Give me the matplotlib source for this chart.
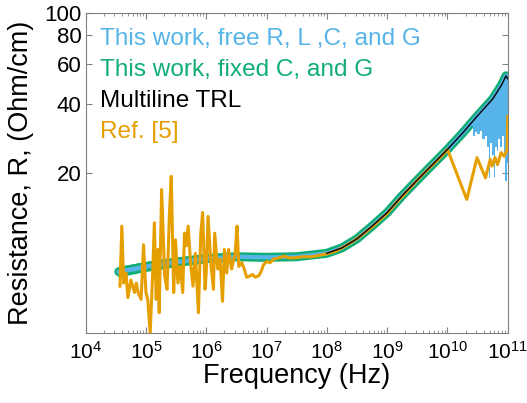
import numpy as np
import matplotlib
matplotlib.use("Agg")
import matplotlib.pyplot as plt
from matplotlib.ticker import FixedLocator, LogLocator, NullFormatter, NullLocator

plt.rcParams['font.family'] = ['Liberation Sans', 'DejaVu Sans']
plt.rcParams['mathtext.fontset'] = 'custom'
plt.rcParams['mathtext.rm'] = 'Liberation Sans'
plt.rcParams['mathtext.default'] = 'regular'

# ---- data (log10 of frequency in Hz, resistance in Ohm/cm) ----
band_logf = [4.55, 5.0, 5.5, 6.0, 6.5, 7.0, 7.5, 8.0, 8.25, 8.5, 8.75, 9.0,
             9.25, 9.5, 9.75, 10.0, 10.25, 10.5, 10.75, 10.9, 10.97, 11.0]
band_R = [7.4, 7.8, 8.15, 8.45, 8.6, 8.55, 8.6, 8.9, 9.4, 10.3, 11.7, 13.4,
          15.9, 18.6, 21.7, 25.3, 29.8, 35.5, 42.0, 48.5, 53.0, 51.5]
# spread of the "free R, L, C, G" curve (decades)
blue_spread = [0.016, 0.015, 0.013, 0.011, 0.010, 0.008, 0.006, 0.002, 0.0, 0.0, 0.0, 0.0,
               0.0, 0.0, 0.0, 0.0, 0.0, 0.0, 0.0, 0.0, 0.0, 0.0]

# high frequency scatter of the free fit
hf_logf = [10.40, 10.43, 10.47, 10.52, 10.56, 10.60, 10.64, 10.68, 10.70, 10.72, 10.75,
           10.78, 10.80, 10.83, 10.86, 10.89, 10.92, 10.95, 10.97, 10.99, 11.0]
hf_top = [33.1, 33.8, 34.8, 36.0, 37.0, 38.0, 39.1, 40.2, 40.7, 41.3, 42.2,
          43.5, 44.5, 46.0, 47.1, 48.2, 49.6, 51.5, 53.0, 52.0, 51.5]
hf_low = [32.0, 29.0, 30.0, 29.5, 30.5, 28.0, 29.0, 26.0, 19.0, 27.0, 24.0,
          19.2, 26.0, 25.0, 28.0, 26.0, 29.0, 24.0, 18.4, 23.0, 22.0]

# Ref. [5]
ref_logf = [4.57, 4.60, 4.63, 4.67, 4.70, 4.75, 4.81, 4.84, 4.87, 4.92, 4.96, 5.00,
            5.03, 5.07, 5.11, 5.14, 5.17, 5.20, 5.22, 5.26, 5.31, 5.35, 5.39, 5.42,
            5.46, 5.49, 5.53, 5.57, 5.61, 5.64, 5.67, 5.70, 5.74, 5.78, 5.82, 5.87,
            5.91, 5.94, 5.98, 6.00, 6.03, 6.08, 6.12, 6.14, 6.19, 6.23, 6.27, 6.30,
            6.34, 6.37, 6.42, 6.48, 6.51, 6.54, 6.59, 6.63, 6.67, 6.73, 6.77, 6.81,
            6.87, 6.91, 6.95, 7.01, 7.06, 7.12, 7.20, 7.29, 7.37,
            7.45, 7.6, 7.75, 7.9, 8.0, 8.15, 8.3, 8.45, 8.6, 8.75, 8.9, 9.0, 9.15,
            9.3, 9.45, 9.6, 9.75, 9.9, 10.0,
            10.32, 10.49, 10.63, 10.71, 10.74, 10.79, 10.83, 10.89, 10.94, 10.99, 11.0]
ref_R = [6.4, 11.7, 6.6, 7.3, 5.7, 6.8, 6.0, 6.6, 6.0, 5.6, 9.7, 6.0,
         5.6, 4.0, 7.1, 12.1, 5.6, 9.25, 4.9, 16.9, 7.1, 6.2, 13.4, 19.3,
         6.0, 10.2, 6.6, 7.8, 6.0, 10.9, 9.6, 11.7, 8.1, 6.4, 8.9, 4.9,
         10.9, 13.4, 6.2, 7.3, 12.9, 7.8, 6.2, 10.9, 7.6, 8.4, 5.5, 9.25,
         7.3, 9.25, 7.6, 8.9, 11.7, 7.8, 8.1, 7.6, 7.0, 7.1, 7.2, 7.0,
         7.1, 7.4, 7.95, 8.2, 8.1, 8.4, 8.5, 8.65, 8.5,
         8.5, 8.6, 8.6, 8.75, 8.85, 9.1, 9.55, 10.1, 10.8, 11.6, 12.6, 13.3, 14.8,
         16.3, 18.0, 19.8, 21.6, 23.6, 25.3,
         15.3, 23.3, 19.0, 22.9, 21.4, 23.3, 21.7, 24.5, 23.6, 25.3, 35.3]

labels = ["This work, free R, L ,C, and G", "This work, fixed C, and G",
          "Multiline TRL", "Ref. [5]"]
c_blue, c_green, c_black, c_orange = "#56B4E9", "#10AE74", "black", "#E69F00"

f_band = 10 ** np.array(band_logf)
R_band = np.array(band_R)
spread = 10 ** np.array(blue_spread)
f_hf = 10 ** np.array(hf_logf)
f_ref = 10 ** np.array(ref_logf)

fig = plt.figure(figsize=(5.27, 4.03), dpi=100)
ax = fig.add_axes([0.1625, 0.174, 0.801, 0.7945])

ax.plot(f_band, R_band, color=c_green, lw=6.5, solid_capstyle="round", zorder=1)
ax.fill_between(f_band, R_band / spread, R_band * spread, facecolor=c_blue,
                edgecolor=c_green, lw=2.2, zorder=2)
ax.plot(f_band, R_band, color=c_blue, lw=3, zorder=2)
ax.fill_between(f_hf, np.array(hf_low), np.array(hf_top), step="mid",
                color=c_blue, lw=0, zorder=2)
ax.plot(f_ref, ref_R, color=c_orange, lw=2.2, zorder=3)
ax.plot(f_band[7:], R_band[7:], color=c_black, lw=1.0, zorder=4)

ax.set_xscale("log")
ax.set_yscale("log")
ax.set_xlim(1e4, 1e11)
ax.set_ylim(4, 100)

ax.xaxis.set_major_locator(LogLocator(base=10, numticks=20))
ax.xaxis.set_minor_locator(LogLocator(base=10, subs=np.arange(2, 10), numticks=20))
ax.xaxis.set_minor_formatter(NullFormatter())
ax.yaxis.set_major_locator(FixedLocator([20, 40, 60, 80, 100]))
ax.yaxis.set_minor_locator(NullLocator())
ax.set_yticklabels(["20", "40", "60", "80", "100"])

ax.tick_params(which="both", direction="in", top=True, right=True, color="#808080")
ax.tick_params(which="major", length=4, width=0.8)
ax.tick_params(which="minor", length=2.5, width=0.6)
ax.tick_params(axis="x", labelsize=15, pad=6)
ax.tick_params(axis="y", labelsize=16, pad=3)
for s in ax.spines.values():
    s.set_color("#808080")
    s.set_linewidth(0.8)

ax.set_xlabel("Frequency (Hz)", fontsize=19.5, labelpad=0)
ax.set_ylabel("Resistance, R, (Ohm/cm)", fontsize=19.5, labelpad=7)

for i, (txt, c) in enumerate(zip(labels, [c_blue, c_green, c_black, c_orange])):
    ax.text(0.035, 0.9 - i * 0.097, txt, color=c, fontsize=17.6,
            transform=ax.transAxes, va="baseline")

fig.savefig("out.png", dpi=100)
